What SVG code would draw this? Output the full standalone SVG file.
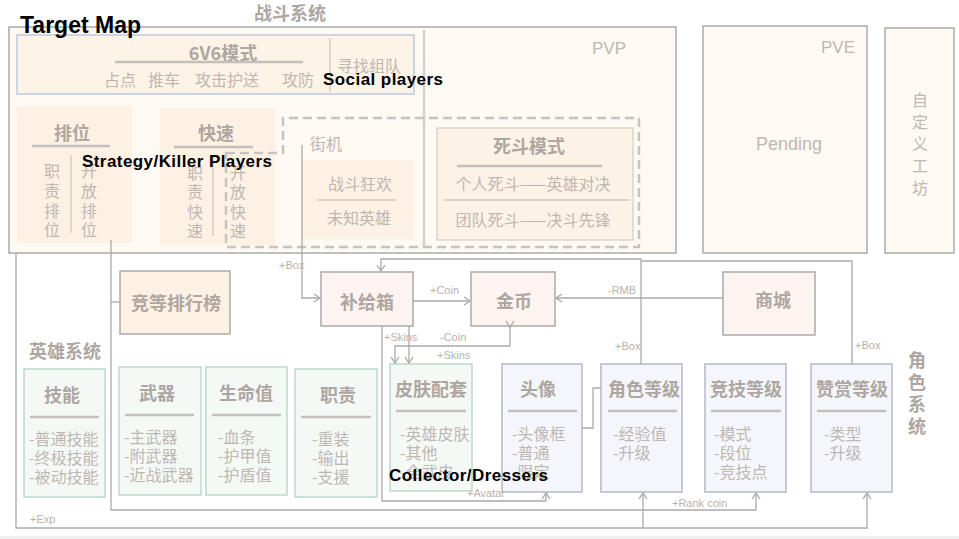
<svg xmlns="http://www.w3.org/2000/svg" width="959" height="539" viewBox="0 0 959 539">
<defs>
<marker id="arr" markerUnits="userSpaceOnUse" markerWidth="12" markerHeight="12" viewBox="-8 -6 10 12" refX="0" refY="0" orient="auto">
<path d="M-6,-4 L0,0 L-6,4" fill="none" stroke="#a8a8a8" stroke-width="1.3"/>
</marker>
<style>
.box{stroke:#aaaaaa;stroke-width:1.5}
.cream{fill:#fef9f3}
.orange{fill:#fdf1e3}
.pink{fill:#fdf4f2}
.green{fill:#f4f9f6;stroke:#bcd8ca;stroke-width:1.5}
.blue{fill:#f4f6fb;stroke:#b6b9c8;stroke-width:1.5}
.t{font-family:"Noto Sans CJK SC",sans-serif;fill:#bfb7b2;font-size:16px;dominant-baseline:central}
.tb{font-family:"Noto Sans CJK SC",sans-serif;fill:#aea6a1;font-size:18px;font-weight:bold;dominant-baseline:central}
.c{text-anchor:middle}
.lbl{font-family:"Liberation Sans",Arial,sans-serif;fill:#b9b1ac;font-size:11px}
.en{font-family:"Liberation Sans",Arial,sans-serif;font-weight:bold;fill:#000000}
.ul{stroke:#c3bfbc;stroke-width:2.5}
.sep{stroke:#d0c9c3;stroke-width:1.3}
.conn{fill:none;stroke:#aaaaaa;stroke-width:1.3}
</style>
</defs>
<rect x="0" y="0" width="959" height="539" fill="#ffffff"/>
<rect x="0" y="536" width="959" height="3" fill="#f0f0f0"/>

<g id="battle-system">
<text class="tb c" x="290" y="12">战斗系统</text>
</g>

<g id="pvp">
<rect class="box cream" x="9" y="27" width="667" height="226"/>
<text x="592" y="54" font-family="Liberation Sans, Arial, sans-serif" font-size="17" fill="#bfb7b2">PVP</text>
<line x1="424" y1="30" x2="424" y2="248" stroke="#d2d2d2" stroke-width="2.5"/>
</g>

<g id="mode-6v6">
<rect x="17" y="35" width="397" height="59" fill="#fdf3e6" stroke="#b9cae2" stroke-width="1.5"/>
<text class="tb c" x="223" y="52">6V6模式</text>
<line class="ul" x1="115" y1="62" x2="303" y2="62"/>
<line class="sep" x1="330" y1="38" x2="330" y2="92"/>
<text class="t" x="337" y="65" font-size="18">寻找组队</text>
<text class="t" x="104" y="79" font-size="17.5">占点</text>
<text class="t" x="148" y="79" font-size="17.5">推车</text>
<text class="t" x="195" y="79" font-size="17.5">攻击护送</text>
<text class="t" x="282" y="79" font-size="17.5">攻防</text>
</g>

<g id="ranked">
<rect class="orange" x="17" y="106" width="115" height="137"/>
<text class="tb c" x="72" y="132">排位</text>
<line class="ul" x1="32" y1="146" x2="110" y2="146"/>
<line class="sep" x1="71" y1="155" x2="71" y2="233"/>
<g class="t c" font-size="17">
<text x="52" y="170">职</text><text x="52" y="190">责</text><text x="52" y="210">排</text><text x="52" y="229">位</text>
<text x="89" y="170">开</text><text x="89" y="190">放</text><text x="89" y="210">排</text><text x="89" y="229">位</text>
</g>
</g>

<g id="quick">
<rect class="orange" x="160" y="108" width="115" height="137"/>
<text class="tb c" x="216" y="132">快速</text>
<line class="ul" x1="174" y1="147" x2="253" y2="147"/>
<line class="sep" x1="213" y1="157" x2="213" y2="236"/>
<g class="t c" font-size="17">
<text x="195" y="172">职</text><text x="195" y="191">责</text><text x="195" y="211">快</text><text x="195" y="230">速</text>
<text x="238" y="172">开</text><text x="238" y="191">放</text><text x="238" y="211">快</text><text x="238" y="230">速</text>
</g>
</g>

<g id="arcade">
<polygon points="226,153 283,153 283,118 639,118 639,247 226,247" fill="none" stroke="#c4c4c4" stroke-width="2.5" stroke-dasharray="9 5"/>
<text class="t" x="310" y="143" font-size="18">街机</text>
<rect class="orange" x="302" y="160" width="111" height="79"/>
<text class="t c" x="360" y="183" font-size="18">战斗狂欢</text>
<line class="sep" x1="317" y1="200" x2="396" y2="200"/>
<text class="t c" x="359" y="217" font-size="18">未知英雄</text>
</g>

<g id="deathmatch">
<rect x="437" y="128" width="196" height="112" fill="#fdf2e6" stroke="#d9cfc5" stroke-width="1.3"/>
<text class="tb c" x="529" y="145">死斗模式</text>
<line class="ul" x1="457" y1="166" x2="602" y2="166"/>
<text class="t c" x="533" y="183">个人死斗——英雄对决</text>
<line class="sep" x1="443" y1="200" x2="630" y2="200"/>
<text class="t c" x="533" y="219">团队死斗——决斗先锋</text>
</g>

<g id="pve">
<rect class="box cream" x="703" y="26" width="164" height="227"/>
<text x="821" y="53" font-family="Liberation Sans, Arial, sans-serif" font-size="17" fill="#bfb7b2">PVE</text>
<text x="789" y="150" text-anchor="middle" font-family="Liberation Sans, Arial, sans-serif" font-size="18" fill="#bfb7b2">Pending</text>
</g>

<g id="workshop">
<rect class="box cream" x="885" y="28" width="69" height="225"/>
<g class="t c" font-size="17">
<text x="920" y="99">自</text><text x="920" y="121">定</text><text x="920" y="143">义</text><text x="920" y="165">工</text><text x="920" y="187">坊</text>
</g>
</g>

<g id="leaderboard">
<rect class="box orange" x="120" y="271" width="110" height="63"/>
<text class="tb c" x="176" y="302">竞等排行榜</text>
</g>

<g id="supply-box">
<rect class="box pink" x="321" y="272" width="92" height="54"/>
<text class="tb c" x="367" y="301">补给箱</text>
</g>

<g id="coin">
<rect class="box pink" x="471" y="272" width="84" height="54"/>
<text class="tb c" x="514" y="300">金币</text>
</g>

<g id="shop">
<rect class="box pink" x="723" y="272" width="92" height="63"/>
<text class="tb c" x="773" y="299">商城</text>
</g>

<g id="hero-system">
<text class="tb c" x="65" y="350">英雄系统</text>
</g>

<g id="skills">
<rect class="green" x="24" y="369" width="81" height="128"/>
<text class="tb c" x="62" y="394">技能</text>
<line class="ul" x1="30" y1="417" x2="99" y2="417"/>
<text class="t" x="29" y="438">-普通技能</text>
<text class="t" x="29" y="457">-终极技能</text>
<text class="t" x="29" y="476">-被动技能</text>
</g>

<g id="weapons">
<rect class="green" x="119" y="367" width="82" height="128"/>
<text class="tb c" x="157" y="392">武器</text>
<line class="ul" x1="125" y1="415" x2="194" y2="415"/>
<text class="t" x="124" y="436">-主武器</text>
<text class="t" x="124" y="455">-附武器</text>
<text class="t" x="124" y="474">-近战武器</text>
</g>

<g id="health">
<rect class="green" x="206" y="367" width="81" height="128"/>
<text class="tb c" x="246" y="392">生命值</text>
<line class="ul" x1="212" y1="415" x2="281" y2="415"/>
<text class="t" x="218" y="436">-血条</text>
<text class="t" x="218" y="455">-护甲值</text>
<text class="t" x="218" y="474">-护盾值</text>
</g>

<g id="roles">
<rect class="green" x="295" y="369" width="82" height="128"/>
<text class="tb c" x="338" y="394">职责</text>
<line class="ul" x1="301" y1="417" x2="371" y2="417"/>
<text class="t" x="312" y="438">-重装</text>
<text class="t" x="312" y="457">-输出</text>
<text class="t" x="312" y="476">-支援</text>
</g>

<g id="skin-set">
<rect class="green" x="390" y="364" width="82" height="127"/>
<text class="tb c" x="431" y="388">皮肤配套</text>
<line class="ul" x1="396" y1="411" x2="466" y2="411"/>
<text class="t" x="400" y="433">-英雄皮肤</text>
<text class="t" x="400" y="452">-其他</text>
<text class="t" x="400" y="471">-全武皮</text>
</g>

<g id="avatar">
<rect class="blue" x="502" y="364" width="80" height="128"/>
<text class="tb c" x="538" y="388">头像</text>
<line class="ul" x1="508" y1="411" x2="577" y2="411"/>
<text class="t" x="512" y="433">-头像框</text>
<text class="t" x="512" y="452">-普通</text>
<text class="t" x="512" y="471">-限定</text>
</g>

<g id="role-level">
<rect class="blue" x="601" y="364" width="81" height="128"/>
<text class="tb c" x="644" y="388">角色等级</text>
<line class="ul" x1="608" y1="411" x2="677" y2="411"/>
<text class="t" x="613" y="433">-经验值</text>
<text class="t" x="613" y="452">-升级</text>
</g>

<g id="rank-level">
<rect class="blue" x="705" y="364" width="81" height="128"/>
<text class="tb c" x="746" y="388">竞技等级</text>
<line class="ul" x1="711" y1="411" x2="781" y2="411"/>
<text class="t" x="714" y="433">-模式</text>
<text class="t" x="714" y="452">-段位</text>
<text class="t" x="714" y="471">-竞技点</text>
</g>

<g id="reward-level">
<rect class="blue" x="811" y="364" width="81" height="128"/>
<text class="tb c" x="852" y="388">赞赏等级</text>
<line class="ul" x1="817" y1="411" x2="886" y2="411"/>
<text class="t" x="824" y="433">-类型</text>
<text class="t" x="824" y="452">-升级</text>
</g>

<g id="role-system" class="tb c">
<text x="917" y="359">角</text><text x="917" y="381">色</text><text x="917" y="403">系</text><text x="917" y="425">统</text>
</g>

<g id="connectors">
<path class="conn" d="M302,145 V298 H320" marker-end="url(#arr)"/>
<text class="lbl" x="279" y="269">+Box</text>
<path class="conn" d="M111,240 V510 H756 V493" marker-end="url(#arr)"/>
<path class="conn" d="M111,302 H120"/>
<text class="lbl" x="672" y="507" font-size="12">+Rank coin</text>
<path class="conn" d="M16,253 V528 H867 V493" marker-end="url(#arr)"/>
<path class="conn" d="M643,528 V493" marker-end="url(#arr)"/>
<text class="lbl" x="30" y="523">+Exp</text>
<path class="conn" d="M641,364 V259 H381 V271" marker-end="url(#arr)"/>
<text class="lbl" x="615" y="350" font-size="12">+Box</text>
<path class="conn" d="M852,364 V261 H641"/>
<text class="lbl" x="855" y="349" font-size="12">+Box</text>
<path class="conn" d="M413,301 H470" marker-end="url(#arr)"/>
<text class="lbl" x="430" y="294" font-size="12">+Coin</text>
<path class="conn" d="M723,298 H556" marker-end="url(#arr)"/>
<text class="lbl" x="608" y="294" font-size="12">-RMB</text>
<path class="conn" d="M409,326 V363" marker-end="url(#arr)"/>
<text class="lbl" x="384" y="341" font-size="10">+Skins</text>
<path class="conn" d="M510,327 V346 H395 V363" marker-start="url(#arr)" marker-end="url(#arr)"/>
<text class="lbl" x="440" y="341" font-size="10">-Coin</text>
<text class="lbl" x="437" y="359" font-size="10">+Skins</text>
<path class="conn" d="M382,326 V501 H546 V493" marker-end="url(#arr)"/>
<text class="lbl" x="467" y="497" font-size="10">+Avatar</text>
<path class="conn" d="M582,428 H593 V388 H601"/>
</g>

<g id="player-labels">
<text class="en" x="20" y="33" font-size="23">Target Map</text>
<text class="en" x="323" y="85" font-size="17" textLength="120">Social players</text>
<text class="en" x="82" y="167" font-size="17" textLength="190">Strategy/Killer Players</text>
<text class="en" x="389" y="481" font-size="17" textLength="159">Collector/Dressers</text>
</g>
</svg>
